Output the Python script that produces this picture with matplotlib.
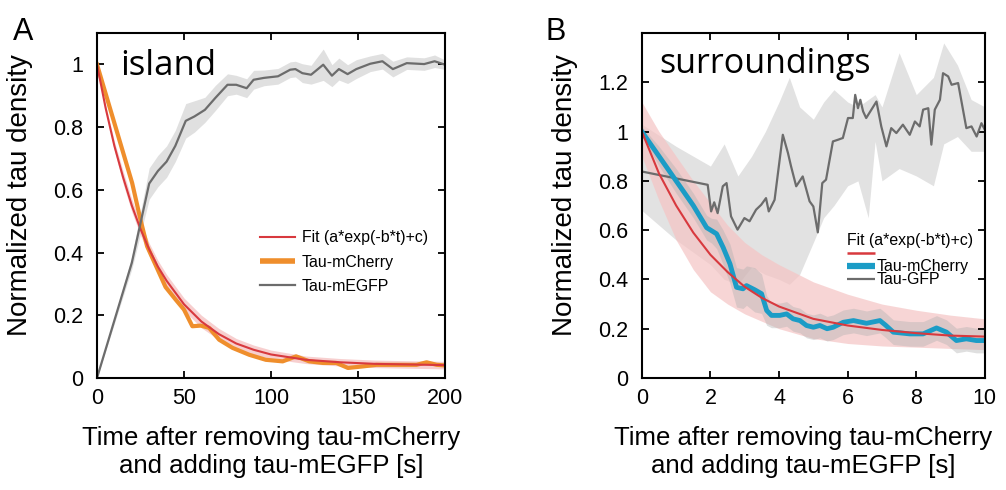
import matplotlib
matplotlib.use("Agg")
import matplotlib.pyplot as plt
from matplotlib.lines import Line2D
import numpy as np

plt.rcParams['font.family'] = ['Liberation Sans', 'DejaVu Sans']

# ---------------- panel A : island ----------------
tA_gfp = [0, 20, 30, 35, 40, 45, 51, 56, 62, 68, 75, 80, 86, 90, 96, 104, 111, 114, 118, 123,
          130, 135, 139, 144, 149, 157, 164, 170, 178, 188, 194, 200]
yA_gfp = [0.0, 0.367, 0.62, 0.66, 0.69, 0.74, 0.82, 0.834, 0.855, 0.893, 0.935, 0.935, 0.924,
          0.951, 0.957, 0.962, 0.983, 0.985, 0.972, 0.967, 0.999, 0.964, 0.985, 0.969, 0.985,
          1.002, 1.01, 0.985, 1.004, 1.001, 1.01, 0.999]
sdA_gfp = [0.0, 0.02, 0.05, 0.05, 0.05, 0.05, 0.055, 0.05, 0.04, 0.04, 0.035, 0.03, 0.03, 0.03,
           0.025, 0.025, 0.025, 0.025, 0.03, 0.03, 0.05, 0.035, 0.035, 0.03, 0.03, 0.025, 0.025,
           0.025, 0.02, 0.02, 0.02, 0.015]

tA_cherry = [0, 20.2, 25, 28.8, 33.7, 39.4, 45.2, 50, 54.8, 59.6, 64.4, 70.2, 77.9, 87.5, 97,
             106.7, 114.4, 122, 129.8, 137.5, 144.2, 152.9, 160.6, 168.3, 175.9, 183.6, 189.4,
             195.2, 200]
yA_cherry = [1.0, 0.622, 0.505, 0.42, 0.36, 0.29, 0.25, 0.218, 0.165, 0.167, 0.16, 0.122, 0.096,
             0.074, 0.058, 0.053, 0.069, 0.053, 0.048, 0.048, 0.032, 0.037, 0.042, 0.042, 0.042,
             0.042, 0.05, 0.042, 0.04]

tA_fit = [0, 5, 10, 15, 20, 25, 30, 35, 40, 50, 60, 70, 80, 90, 100, 120, 140, 160, 180, 200]
yA_fit = [1.0, 0.86, 0.74, 0.64, 0.55, 0.475, 0.41, 0.355, 0.31, 0.235, 0.18, 0.14, 0.11, 0.09,
          0.075, 0.058, 0.05, 0.045, 0.043, 0.041]
sdA_fit = [0.0, 0.01, 0.015, 0.02, 0.02, 0.02, 0.02, 0.02, 0.02, 0.02, 0.02, 0.018, 0.016, 0.015,
           0.014, 0.012, 0.012, 0.012, 0.012, 0.012]

# ---------------- panel B : surroundings ----------------
tB_gfp = [0, 1.92, 2.02, 2.11, 2.21, 2.36, 2.47, 2.6, 2.79, 2.99, 3.14, 3.33, 3.48, 3.62, 3.70,
          3.87, 4.11, 4.26, 4.35, 4.5, 4.69, 4.89, 5.0, 5.13, 5.26, 5.37, 5.57, 5.72, 5.86, 6.01,
          6.15, 6.22, 6.3, 6.37, 6.45, 6.54, 6.84, 6.98, 7.13, 7.27, 7.42, 7.61, 7.81, 7.96, 8.1,
          8.2, 8.35, 8.44, 8.54, 8.69, 8.78, 8.93, 9.03, 9.22, 9.46, 9.61, 9.76, 9.9, 10]
yB_gfp = [0.838, 0.784, 0.676, 0.713, 0.669, 0.778, 0.791, 0.656, 0.602, 0.649, 0.636, 0.683,
          0.703, 0.73, 0.676, 0.723, 0.987, 0.913, 0.859, 0.778, 0.818, 0.717, 0.696, 0.591,
          0.791, 0.805, 0.96, 0.967, 0.974, 1.055, 1.055, 1.149, 1.095, 1.129, 1.082, 1.055,
          1.122, 1.021, 0.94, 1.014, 0.994, 1.028, 0.987, 1.041, 1.021, 1.089, 1.095, 0.947,
          1.089, 1.129, 1.237, 1.224, 1.19, 1.197, 1.014, 1.021, 0.98, 1.034, 1.007]

tB_gfp_band = [0, 1, 2, 2.4, 2.8, 3.2, 3.6, 4.0, 4.3, 4.6, 5.0, 5.3, 5.6, 6.0, 6.3, 6.6, 6.8,
               7.0, 7.5, 8.0, 8.5, 8.8, 9.2, 9.6, 10]
upB_gfp = [1.03, 0.94, 0.86, 0.95, 0.82, 0.90, 1.0, 1.12, 1.22, 1.10, 1.05, 1.12, 1.17, 1.12,
           1.10, 1.13, 1.15, 1.10, 1.32, 1.15, 1.22, 1.36, 1.27, 1.13, 1.10]
loB_gfp = [0.68, 0.56, 0.46, 0.40, 0.38, 0.45, 0.42, 0.40, 0.38, 0.42, 0.55, 0.65, 0.70, 0.78,
           0.80, 0.65, 0.96, 0.80, 0.85, 0.82, 0.78, 0.95, 0.98, 0.92, 0.92]

tB_cherry = [0, 0.5, 1.0, 1.5, 1.89, 2.03, 2.18, 2.37, 2.57, 2.76, 2.95, 3.05, 3.29, 3.49, 3.64,
             3.78, 4.02, 4.22, 4.41, 4.61, 4.8, 5.0, 5.19, 5.4, 5.58, 5.87, 6.17, 6.55, 6.94, 7.1,
             7.33, 7.81, 8.2, 8.59, 8.88, 9.17, 9.46, 9.75, 10]
yB_cherry = [1.0, 0.9, 0.8, 0.7, 0.61, 0.598, 0.585, 0.53, 0.463, 0.368, 0.362, 0.375, 0.358,
             0.342, 0.274, 0.254, 0.254, 0.26, 0.24, 0.233, 0.213, 0.206, 0.213, 0.2, 0.206,
             0.226, 0.233, 0.222, 0.233, 0.215, 0.186, 0.179, 0.179, 0.203, 0.186, 0.152, 0.159,
             0.152, 0.152]
sdB_cherry = [0.02, 0.04, 0.05, 0.05, 0.05, 0.05, 0.06, 0.07, 0.08, 0.08, 0.08, 0.08, 0.09,
              0.08, 0.06, 0.05, 0.05, 0.05, 0.05, 0.05, 0.05, 0.05, 0.05, 0.05, 0.05, 0.05, 0.05,
              0.05, 0.05, 0.05, 0.05, 0.05, 0.05, 0.05, 0.05, 0.05, 0.05, 0.05, 0.05]

tB_fit = [0, 0.5, 1.0, 1.5, 2.0, 2.5, 3.0, 3.5, 4, 5, 6, 7, 8, 9, 10]
yB_fit = [1.0, 0.83, 0.70, 0.59, 0.50, 0.43, 0.37, 0.325, 0.29, 0.24, 0.213, 0.195, 0.182,
          0.172, 0.168]
upB_fit = [1.12, 1.0, 0.9, 0.8, 0.71, 0.62, 0.55, 0.50, 0.46, 0.39, 0.34, 0.30, 0.275, 0.255, 0.24]
loB_fit = [0.90, 0.72, 0.56, 0.44, 0.35, 0.30, 0.26, 0.23, 0.20, 0.16, 0.14, 0.13, 0.125, 0.12,
           0.115]

c_red = '#d8393e'
c_pink = '#f5c4c4'
c_orange = '#ef8e2c'
c_gray = '#6c6c6c'
c_band = '#d6d6d6'
c_cyan = '#1b9cc6'

fig = plt.figure(figsize=(10.06, 4.9), dpi=100)
axA = fig.add_axes([0.0964, 0.2286, 0.346, 0.704])
axB = fig.add_axes([0.638, 0.2286, 0.341, 0.704])

# panel A
gA = np.array(yA_gfp); sgA = np.array(sdA_gfp)
axA.fill_between(tA_gfp, gA - sgA, gA + sgA, color=c_band, alpha=0.75, lw=0)
fA = np.array(yA_fit); sfA = np.array(sdA_fit)
axA.fill_between(tA_fit, fA - sfA, fA + sfA, color=c_pink, alpha=0.8, lw=0)
axA.plot(tA_cherry, yA_cherry, color=c_orange, lw=3.0)
axA.plot(tA_fit, yA_fit, color=c_red, lw=1.5)
axA.plot(tA_gfp, yA_gfp, color=c_gray, lw=1.6)
axA.set_xlim(0, 200)
axA.set_ylim(0, 1.1)
axA.set_xticks([0, 50, 100, 150, 200])
axA.set_yticks([0, 0.2, 0.4, 0.6, 0.8, 1])
axA.set_yticklabels(['0', '0.2', '0.4', '0.6', '0.8', '1'])
axA.text(0.066, 0.878, 'island', transform=axA.transAxes, family='Open Sans', fontsize=25,
         va='baseline')
hA = [Line2D([], [], color=c_red, lw=1.5), Line2D([], [], color=c_orange, lw=4, solid_capstyle='butt'),
      Line2D([], [], color=c_gray, lw=1.6)]
axA.legend(hA, ['Fit (a*exp(-b*t)+c)', 'Tau-mCherry', 'Tau-mEGFP'], loc='upper left',
           bbox_to_anchor=(0.468, 0.428), frameon=False, fontsize=11.4, borderpad=0,
           borderaxespad=0, handlelength=2.2, handletextpad=0.45, labelspacing=0.58)

# panel B
axB.fill_between(tB_gfp_band, loB_gfp, upB_gfp, color=c_band, alpha=0.7, lw=0)
axB.fill_between(tB_fit, loB_fit, upB_fit, color=c_pink, alpha=0.7, lw=0)
cB = np.array(yB_cherry); scB = np.array(sdB_cherry)
axB.fill_between(tB_cherry, cB - scB, cB + scB, color='#b0b0b0', alpha=0.4, lw=0)
axB.plot(tB_gfp, yB_gfp, color=c_gray, lw=1.6)
axB.plot(tB_cherry, yB_cherry, color=c_cyan, lw=3.5)
axB.plot(tB_fit, yB_fit, color=c_red, lw=1.5)
axB.set_xlim(0, 10)
axB.set_ylim(0, 1.4)
axB.set_xticks([0, 2, 4, 6, 8, 10])
axB.set_yticks([0, 0.2, 0.4, 0.6, 0.8, 1, 1.2])
axB.set_yticklabels(['0', '0.2', '0.4', '0.6', '0.8', '1', '1.2'])
axB.text(0.052, 0.884, 'surroundings', transform=axB.transAxes, family='Open Sans', fontsize=24.5,
         va='baseline')
hB = [Line2D([], [], color=c_red, lw=1.8, solid_capstyle='butt'),
      Line2D([], [], color=c_cyan, lw=4.5, solid_capstyle='butt'),
      Line2D([], [], color=c_gray, lw=1.6, solid_capstyle='butt')]
axB.legend(hB, ['', 'Tau-mCherry', 'Tau-GFP'], loc='upper left',
           bbox_to_anchor=(0.598, 0.42), frameon=False, fontsize=11.4,
           title='Fit (a*exp(-b*t)+c)', title_fontsize=11.4, alignment='left',
           borderpad=0, borderaxespad=0, handlelength=1.75, handletextpad=0.15,
           labelspacing=-0.12)

for ax in (axA, axB):
    for sp in ax.spines.values():
        sp.set_linewidth(1.5)
    ax.tick_params(direction='in', length=5, width=1.3, top=True, right=True, labelsize=15.5)
    ax.tick_params(axis='x', pad=7)
    ax.tick_params(axis='y', pad=10)
    ax.set_ylabel('Normalized tau density', fontsize=20)
    ax.set_xlabel('Time after removing tau-mCherry\nand adding tau-mEGFP [s]', fontsize=18.5,
                  linespacing=1.2)
    ax.xaxis.set_label_coords(0.5, -0.14)
axA.yaxis.set_label_coords(-0.184, 0.53)
axB.yaxis.set_label_coords(-0.187, 0.53)
axB.xaxis.set_label_coords(0.47, -0.14)

fig.text(0.023, 0.935, 'A', fontsize=22, ha='center', va='center')
fig.text(0.552, 0.935, 'B', fontsize=22, ha='center', va='center')

plt.savefig('out.png', dpi=100)
